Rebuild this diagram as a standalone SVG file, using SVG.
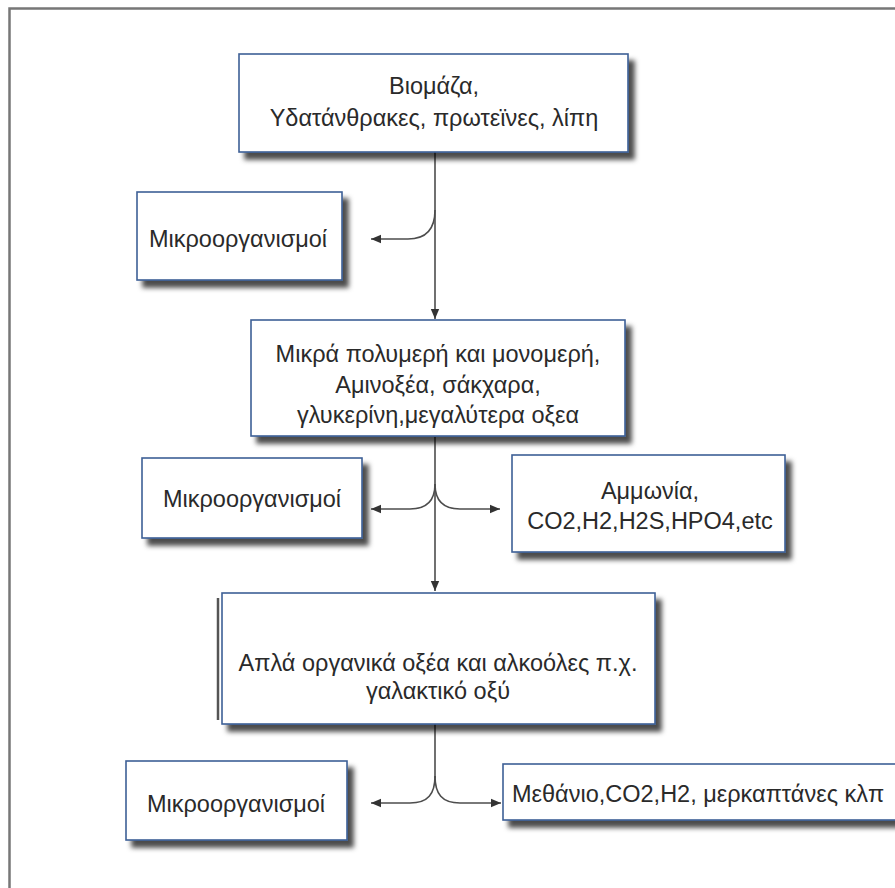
<svg xmlns="http://www.w3.org/2000/svg" width="895" height="888" viewBox="0 0 895 888">
  <style>
    .box { fill: #ffffff; stroke: #3d6096; stroke-width: 1.6; filter: url(#shadow); }
    .lbl { font-family: "Liberation Sans", Arial, sans-serif; font-size: 23.5px; fill: #2a2a2a; }
    .mid { text-anchor: middle; }
    .conn { fill: none; stroke: #4d4d4d; stroke-width: 1.6; }
  </style>
  <defs>
    <filter id="shadow" x="-10%" y="-10%" width="130%" height="140%">
      <feDropShadow dx="6" dy="7" stdDeviation="2.6" flood-color="#000" flood-opacity="0.7"/>
    </filter>
    <marker id="arrow" markerUnits="userSpaceOnUse" markerWidth="12" markerHeight="10" refX="10" refY="5" orient="auto">
      <path d="M0,0.8 L10,5 L0,9.2 Z" fill="#333"/>
    </marker>
  </defs>

  <rect width="895" height="888" fill="#ffffff"/>
  <!-- page frame -->
  <rect x="9.5" y="8.5" width="900" height="900" fill="none" stroke="#777" stroke-width="2.5"/>

  <g id="connectors">
    <path class="conn" d="M435,152 L435,319" marker-end="url(#arrow)"/>
    <path class="conn" d="M435,210 C435,230 426,239 408,239 L371,239" marker-end="url(#arrow)"/>
    <path class="conn" d="M435,437 L435,591" marker-end="url(#arrow)"/>
    <path class="conn" d="M435,484 C435,500 428,509 410,509 L371,509" marker-end="url(#arrow)"/>
    <path class="conn" d="M435,484 C435,500 442,509 460,509 L500,509" marker-end="url(#arrow)"/>
    <path class="conn" d="M435,724 L435,778"/>
    <path class="conn" d="M435,776 C435,794 428,803 410,803 L371,803" marker-end="url(#arrow)"/>
    <path class="conn" d="M435,776 C435,794 442,803 460,803 L501,803" marker-end="url(#arrow)"/>
  </g>

  <g id="biomass">
    <rect class="box" x="239" y="54" width="389" height="98"/>
    <text class="lbl mid" x="434" y="94">Βιομάζα,</text>
    <text class="lbl mid" x="434" y="126">Υδατάνθρακες, πρωτεϊνες, λίπη</text>
  </g>

  <g id="micro1">
    <rect class="box" x="137" y="192" width="205" height="88"/>
    <text class="lbl mid" x="238" y="247">Μικροοργανισμοί</text>
  </g>

  <g id="polymers">
    <rect class="box" x="251" y="320" width="374" height="116"/>
    <text class="lbl mid" x="438" y="362">Μικρά πολυμερή και μονομερή,</text>
    <text class="lbl mid" x="438" y="393">Αμινοξέα, σάκχαρα,</text>
    <text class="lbl mid" x="438" y="423">γλυκερίνη,μεγαλύτερα οξεα</text>
  </g>

  <g id="micro2">
    <rect class="box" x="142" y="458" width="220" height="80"/>
    <text class="lbl mid" x="252" y="507">Μικροοργανισμοί</text>
  </g>

  <g id="ammonia">
    <rect class="box" x="512" y="455" width="273" height="97"/>
    <text class="lbl mid" x="650" y="499">Αμμωνία,</text>
    <text class="lbl mid" x="650" y="529">CO2,H2,H2S,HPO4,etc</text>
  </g>

  <g id="acids">
    <line x1="218" y1="598" x2="218" y2="720" stroke="#555" stroke-width="2.5"/>
    <rect class="box" x="222" y="593" width="433" height="131"/>
    <text class="lbl mid" x="438" y="671">Απλά οργανικά οξέα και αλκοόλες π.χ.</text>
    <text class="lbl mid" x="438" y="699">γαλακτικό οξύ</text>
  </g>

  <g id="micro3">
    <rect class="box" x="126" y="761" width="221" height="79"/>
    <text class="lbl mid" x="236" y="812">Μικροοργανισμοί</text>
  </g>

  <g id="methane">
    <rect class="box" x="503" y="764" width="420" height="56"/>
    <text class="lbl" x="512" y="802">Μεθάνιο,CO2,H2, μερκαπτάνες κλπ</text>
  </g>
</svg>
